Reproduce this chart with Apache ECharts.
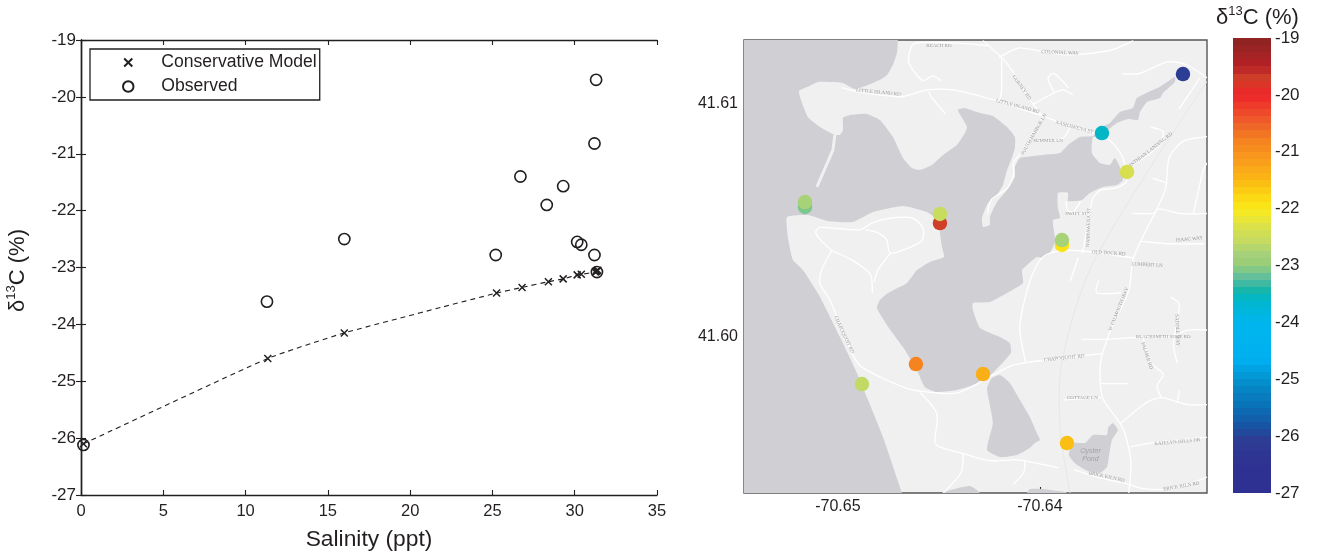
<!DOCTYPE html>
<html><head><meta charset="utf-8">
<style>html,body{margin:0;padding:0;background:#fff}#c{width:1319px;height:556px}</style>
<script src="https://cdn.jsdelivr.net/npm/echarts@6/dist/echarts.min.js"></script>
</head><body><div id="c"></div>
<script>
// ---- Salinity mixing plot ----
const salinityModel = [0.15,11.35,16.0,25.25,26.8,28.4,29.3,30.15,30.4,31.25,31.3,31.35,31.4];
const d13cModel     = [-26.1,-24.6,-24.15,-23.45,-23.35,-23.25,-23.2,-23.13,-23.12,-23.08,-23.07,-23.06,-23.05];
const salinityObs   = [0.15,11.3,16.0,25.2,26.7,28.3,29.3,30.15,30.4,31.2,31.2,31.3,31.35];
const d13cObs       = [-26.12,-23.6,-22.5,-22.78,-21.4,-21.9,-21.57,-22.55,-22.6,-22.78,-20.82,-19.7,-23.08];

// ---- Station map: lon, lat, d13C ----
const stationLon = [-70.63292,-70.63693,-70.63569,-70.63891,-70.63891,-70.65163,-70.65163,-70.64495,-70.64495,-70.64614,-70.64282,-70.64881,-70.63866];
const stationLat = [41.61128,41.60875,41.60708,41.60395,41.60416,41.60558,41.60579,41.60489,41.60528,41.59884,41.59841,41.59798,41.59545];
const stationVal = [-26.1,-23.58,-22.35,-21.9,-22.78,-23.08,-22.78,-19.7,-22.55,-20.82,-21.4,-22.6,-21.57];

// ---- Colour bar ----
const cbStops = [[-19,'#8a2421'],[-19.5,'#b52027'],[-19.7,'#cf3f28'],[-20,'#ee2529'],[-20.5,'#ee5f2b'],[-20.8,'#f58220'],[-21.2,'#f9a01b'],[-21.5,'#fbb713'],[-21.9,'#fbe314'],[-22.1,'#f3ea2a'],[-22.35,'#d7df4f'],[-22.55,'#c8dc5e'],[-22.8,'#a5d17a'],[-23,'#98cc76'],[-23.1,'#74c692'],[-23.25,'#58bc9f'],[-23.4,'#1cb6a4'],[-23.6,'#00b6ca'],[-24,'#00b6ee'],[-24.7,'#00aeef'],[-25,'#0492cf'],[-25.5,'#0a6fb5'],[-25.9,'#1b4d9f'],[-26,'#2d3f94'],[-26.5,'#2f3192'],[-27,'#2e3192']];
const cbBandCount = 64;
const cbTicks = [-27,-26,-25,-24,-23,-22,-21,-20,-19];

// ---- Base map geography (lon, lat) ----
const waterMain = [[-70.656,41.614],[-70.64703,41.614],[-70.64703,41.61274],[-70.64708,41.61218],[-70.64728,41.61167],[-70.64757,41.61124],[-70.64792,41.61103],[-70.64851,41.61081],[-70.64916,41.61064],[-70.64975,41.6109],[-70.6504,41.61094],[-70.65099,41.61094],[-70.65149,41.61073],[-70.65193,41.61055],[-70.65178,41.61004],[-70.65149,41.60944],[-70.65089,41.60901],[-70.65015,41.60867],[-70.6499,41.60867],[-70.64975,41.60888],[-70.64975,41.6094],[-70.64941,41.60952],[-70.64856,41.60957],[-70.64792,41.60931],[-70.64728,41.60858],[-70.64678,41.60768],[-70.64634,41.60725],[-70.64594,41.60716],[-70.64535,41.60738],[-70.6448,41.60781],[-70.64411,41.60824],[-70.64371,41.60875],[-70.64361,41.60901],[-70.64386,41.6094],[-70.64406,41.60974],[-70.64376,41.60982],[-70.64297,41.60961],[-70.64233,41.60948],[-70.64163,41.60901],[-70.64124,41.60858],[-70.64124,41.60811],[-70.64139,41.60768],[-70.64163,41.60716],[-70.64183,41.60652],[-70.64213,41.60609],[-70.64257,41.60575],[-70.64287,41.60511],[-70.64282,41.60472],[-70.64248,41.6048],[-70.64248,41.60515],[-70.64213,41.60579],[-70.64163,41.60631],[-70.64124,41.60686],[-70.64124,41.60729],[-70.64099,41.60768],[-70.63985,41.60781],[-70.63901,41.60789],[-70.63861,41.60824],[-70.63802,41.60858],[-70.63738,41.60862],[-70.63703,41.60897],[-70.63654,41.60918],[-70.63604,41.60965],[-70.6354,41.60982],[-70.6352,41.61025],[-70.63406,41.61073],[-70.63332,41.61115],[-70.63332,41.61094],[-70.63391,41.61047],[-70.63406,41.61025],[-70.6347,41.61008],[-70.63505,41.60965],[-70.63515,41.60931],[-70.63564,41.60935],[-70.63619,41.60918],[-70.63663,41.60888],[-70.63693,41.60854],[-70.63738,41.60858],[-70.63743,41.60789],[-70.63703,41.60746],[-70.63654,41.60738],[-70.63629,41.60768],[-70.63604,41.60729],[-70.63589,41.60674],[-70.63619,41.60652],[-70.63688,41.60644],[-70.63753,41.60618],[-70.63792,41.60588],[-70.63861,41.60583],[-70.63861,41.60618],[-70.63911,41.60618],[-70.63911,41.60553],[-70.63901,41.60511],[-70.63936,41.60502],[-70.63926,41.60429],[-70.63926,41.60403],[-70.63951,41.6036],[-70.63985,41.60339],[-70.64015,41.60343],[-70.64064,41.60309],[-70.64089,41.60287],[-70.64084,41.60232],[-70.64163,41.60189],[-70.64248,41.6015],[-70.64332,41.60146],[-70.64332,41.60116],[-70.64297,41.60039],[-70.64198,41.6],[-70.64149,41.59974],[-70.64144,41.59931],[-70.64233,41.59846],[-70.64332,41.59794],[-70.64411,41.59773],[-70.6451,41.59764],[-70.64569,41.59785],[-70.64609,41.59858],[-70.64678,41.59957],[-70.64757,41.60051],[-70.64807,41.60124],[-70.64792,41.60159],[-70.64752,41.60189],[-70.64658,41.60232],[-70.64609,41.60287],[-70.64545,41.60322],[-70.64475,41.60343],[-70.64485,41.60386],[-70.64495,41.60446],[-70.64495,41.60493],[-70.64559,41.60536],[-70.64678,41.60562],[-70.64827,41.60536],[-70.64926,41.60493],[-70.65054,41.60498],[-70.65149,41.60523],[-70.65252,41.60515],[-70.65248,41.60429],[-70.65223,41.6033],[-70.65173,41.60287],[-70.65089,41.60172],[-70.6499,41.6],[-70.64906,41.59846],[-70.64851,41.5973],[-70.64777,41.59571],[-70.64683,41.59331],[-70.6465,41.5925],[-70.656,41.5925]];
const waterSouthPond = [[-70.64198,41.59837],[-70.64149,41.59803],[-70.64099,41.5973],[-70.6405,41.59657],[-70.64015,41.59588],[-70.64,41.59558],[-70.64025,41.59545],[-70.6405,41.59524],[-70.64114,41.59494],[-70.64198,41.59485],[-70.64262,41.59515],[-70.64233,41.59631],[-70.64253,41.5973],[-70.64262,41.59781],[-70.64238,41.59824]];
const waterOysterPond = [[-70.63639,41.59631],[-70.63614,41.59601],[-70.63644,41.59558],[-70.63659,41.59485],[-70.63668,41.59442],[-70.63703,41.59417],[-70.63762,41.59425],[-70.63827,41.59459],[-70.63857,41.59494],[-70.63837,41.59545],[-70.63777,41.59545],[-70.63738,41.5958],[-70.63668,41.5958],[-70.63663,41.5961]];
const waterBottomA = [[-70.6448,41.59331],[-70.64347,41.59361],[-70.64297,41.59331],[-70.64297,41.5925],[-70.6448,41.5925]];
const waterBottomB = [[-70.64064,41.59331],[-70.6405,41.59348],[-70.63985,41.59348],[-70.63876,41.59335],[-70.63866,41.59331],[-70.63866,41.5925],[-70.64064,41.5925]];
const causeway = [[-70.65015,41.60867],[-70.65025,41.60802],[-70.65104,41.60644]];
const railTrail = [[-70.6317,41.611],[-70.6373,41.6033],[-70.6389,41.599],[-70.639,41.5961],[-70.6385,41.5933]];
const roads = [
 [[-70.6498,41.6107],[-70.6489,41.6105],[-70.6469,41.6103],[-70.6464,41.6104],[-70.6456,41.6106],[-70.6443,41.6106],[-70.642,41.6101],[-70.6403,41.6096],[-70.6399,41.6095],[-70.6387,41.6091],[-70.6375,41.6088],[-70.6365,41.6084],[-70.6359,41.6077],[-70.6357,41.6067],[-70.6362,41.6064],[-70.637,41.6063],[-70.6374,41.6059],[-70.6378,41.604],[-70.6379,41.6036]],
 [[-70.6354,41.6034],[-70.638,41.6037],[-70.6389,41.6037],[-70.6395,41.6036],[-70.64,41.6033],[-70.6405,41.6024],[-70.641,41.6004],[-70.6407,41.5989]],
 [[-70.6503,41.6037],[-70.6508,41.6029],[-70.6509,41.6023],[-70.6504,41.6016],[-70.6493,41.5993],[-70.6488,41.5987],[-70.6466,41.5978],[-70.6451,41.5976],[-70.6441,41.5976],[-70.6433,41.5979],[-70.6416,41.5987],[-70.6407,41.5989],[-70.6387,41.5991],[-70.6369,41.5993]],
 [[-70.6503,41.6037],[-70.6509,41.6042],[-70.6511,41.6045],[-70.6509,41.6047],[-70.6489,41.6046],[-70.6483,41.6049],[-70.6474,41.6051],[-70.6463,41.6051],[-70.6458,41.6047],[-70.6458,41.6042],[-70.6463,41.6039],[-70.6474,41.6036],[-70.6476,41.6042],[-70.6481,41.6045],[-70.6486,41.6046]],
 [[-70.6503,41.6037],[-70.6493,41.6033],[-70.6484,41.6027],[-70.6483,41.6019]],
 [[-70.6474,41.6036],[-70.648,41.6029],[-70.6482,41.6024]],
 [[-70.6428,41.6127],[-70.6418,41.6119],[-70.6412,41.6112],[-70.6406,41.6103],[-70.6399,41.6095]],
 [[-70.6426,41.6125],[-70.6462,41.6126],[-70.6465,41.6118],[-70.6458,41.611],[-70.6453,41.6112],[-70.6449,41.611]],
 [[-70.6455,41.6105],[-70.6453,41.6102],[-70.6447,41.6096]],
 [[-70.6419,41.6119],[-70.6419,41.6106],[-70.642,41.6101]],
 [[-70.642,41.612],[-70.6416,41.6122],[-70.641,41.6124],[-70.6387,41.6121],[-70.6365,41.6123],[-70.6354,41.6127]],
 [[-70.6403,41.61],[-70.6389,41.6106],[-70.6384,41.6104]],
 [[-70.6393,41.6105],[-70.6396,41.6111],[-70.6393,41.6113],[-70.6386,41.6107]],
 [[-70.6408,41.6081],[-70.6399,41.6094]],
 [[-70.6401,41.6084],[-70.6389,41.6085],[-70.6385,41.609]],
 [[-70.6406,41.6082],[-70.6413,41.6075],[-70.6413,41.607],[-70.6416,41.6064],[-70.6424,41.6059],[-70.6426,41.6053]],
 [[-70.6359,41.6113],[-70.6351,41.6113],[-70.6337,41.6118],[-70.6328,41.6117],[-70.6317,41.6111]],
 [[-70.6331,41.6098],[-70.6324,41.6107],[-70.6321,41.6111]],
 [[-70.6317,41.6086],[-70.6329,41.6084],[-70.6336,41.6077],[-70.6338,41.6063],[-70.6349,41.6043],[-70.6354,41.6033],[-70.6356,41.602],[-70.6365,41.6003],[-70.637,41.5989],[-70.6369,41.5974],[-70.6359,41.5961],[-70.6355,41.5947],[-70.6356,41.5933]],
 [[-70.6345,41.609],[-70.6339,41.6088],[-70.6341,41.6082],[-70.6357,41.6072]],
 [[-70.6344,41.6068],[-70.6337,41.6066]],
 [[-70.6354,41.6053],[-70.6344,41.6053],[-70.6341,41.6055],[-70.6331,41.6053],[-70.6317,41.6053]],
 [[-70.6324,41.6053],[-70.6319,41.6072],[-70.6317,41.6075]],
 [[-70.635,41.6041],[-70.6337,41.604],[-70.6319,41.604]],
 [[-70.6379,41.5999],[-70.6367,41.5999],[-70.6349,41.6],[-70.6336,41.6],[-70.6327,41.6003],[-70.6317,41.6003]],
 [[-70.6349,41.6],[-70.6345,41.5989],[-70.6339,41.5984],[-70.6342,41.5979],[-70.634,41.5974]],
 [[-70.636,41.5963],[-70.6347,41.5972],[-70.634,41.5974],[-70.6327,41.5971],[-70.6317,41.5971]],
 [[-70.6332,41.5972],[-70.6331,41.5977]],
 [[-70.637,41.598],[-70.6357,41.598]],
 [[-70.6388,41.5973],[-70.637,41.5974]],
 [[-70.6355,41.5953],[-70.6341,41.5955],[-70.6317,41.5957]],
 [[-70.6383,41.5943],[-70.6372,41.594],[-70.6357,41.5937],[-70.6349,41.5935],[-70.6334,41.5935],[-70.6317,41.594]],
 [[-70.6335,41.6017],[-70.6331,41.6014],[-70.6334,41.5997],[-70.6332,41.5989]],
 [[-70.6371,41.6024],[-70.6372,41.6019],[-70.636,41.6019]],
 [[-70.6459,41.5976],[-70.6451,41.5967],[-70.6452,41.5955],[-70.645,41.5953],[-70.6438,41.595],[-70.6425,41.5947],[-70.6408,41.5947],[-70.6408,41.5942],[-70.6413,41.5937]],
 [[-70.6438,41.595],[-70.6439,41.5942],[-70.6448,41.5933]],
 [[-70.6408,41.5947],[-70.6391,41.5944]],
 [[-70.6381,41.6034],[-70.6385,41.6024]],
 [[-70.6387,41.6058],[-70.6386,41.6054],[-70.6375,41.6053]],
 [[-70.638,41.6058],[-70.6383,41.6054]]
];
const streetLabels = [
 [-70.645,41.6125,'BEACH RD',0],[-70.639,41.6122,'COLONIAL WAY',-3],[-70.648,41.6105,'LITTLE ISLAND RD',-5],
 [-70.6411,41.6099,'LITTLE ISLAND RD',-15],[-70.6409,41.6107,'GURNEY RD',-55],[-70.6383,41.609,'NASHAWENA ST',-15],
 [-70.6403,41.6087,'SOUTH HARBOR LN',60],[-70.6396,41.6084,'SUMMER LN',0],[-70.6347,41.6079,'CORINTHIAN LANDING RD',38],
 [-70.6361,41.6012,'W FALMOUTH HWY',68],[-70.6366,41.6036,'OLD DOCK RD',-4],[-70.6382,41.6053,'SWIFT ST',0],
 [-70.6376,41.6047,'NASHAWENA ST',88],[-70.6347,41.6031,'LUMBERT LN',-3],[-70.6326,41.6042,'ISAAC WAY',5],
 [-70.6388,41.5991,'CHAPOQUOIT RD',6],[-70.6497,41.6001,'CHAPOQUOIT RD',-65],[-70.6339,41.6,'BLACKSMITH SHOP RD',0],
 [-70.6347,41.5992,'PALMER RD',-72],[-70.6379,41.5974,'COTTAGE LN',0],[-70.6367,41.594,'BRICK KILN RD',-12],
 [-70.633,41.5936,'BRICK KILN RD',10],[-70.6332,41.5955,'KATELYN HILLS DR',5],[-70.6332,41.6003,'SADDLE WAY',-88]
];
const pondLabels = [[-70.6375,41.5951,'Oyster'],[-70.6375,41.59475,'Pond']];

const xTicksMap = [-70.65,-70.64];
const yTicksMap = [41.60,41.61];

const lonMin=-70.65465, lonMax=-70.63173, latMin=41.59331, latMax=41.61274;
const ink='#231f20', waterCol='#d0cfd4', landCol='#eff0ef', roadCol='#ffffff';
const font='"Liberation Sans", Arial, sans-serif';

function colourAt(v){
  for(let i=0;i<cbStops.length-1;i++){
    const a=cbStops[i],b=cbStops[i+1];
    if(v<=a[0]&&v>=b[0]) return echarts.color.lerp((a[0]-v)/(a[0]-b[0]),[a[1],b[1]]);
  }
  return cbStops[cbStops.length-1][1];
}
const bandStep=8/cbBandCount;
const bands=[]; for(let i=0;i<cbBandCount;i++){const lo=-27+i*bandStep,hi=lo+bandStep;bands.push([lo,hi,colourAt((lo+hi)/2)]);}

const polys=[waterMain,waterSouthPond,waterOysterPond,waterBottomA,waterBottomB];
const crossPath='path://M0 0L10 10M10 0L0 10Z';
const legendCross='path://M-1.5 -1.5L-1.5 -1.5M11.5 11.5L11.5 11.5M0 0L10 10M10 0L0 10';

const titleRich={d:{fontSize:22,fontWeight:'normal',fontFamily:font,color:ink},s:{fontSize:13,fontWeight:'normal',fontFamily:font,color:ink,verticalAlign:'top',lineHeight:25},c:{fontSize:22,fontWeight:'normal',fontFamily:font,color:ink}};
const d13cTitle='{d|δ}{s|13}{c|C (%)}';

const axLine={lineStyle:{color:ink,width:1.4}};
const tickIn={inside:true,length:5,lineStyle:{color:ink,width:1.1}};
const option={
 animation:false,backgroundColor:'#fff',
 textStyle:{fontFamily:font,color:ink},
 title:{text:d13cTitle,left:1216,top:5,padding:0,textStyle:{fontWeight:'normal',rich:titleRich}},
 grid:[
  {left:81,top:40,width:576,height:455,show:false},
  {left:744,top:40,width:463,height:453,show:true,backgroundColor:landCol,borderColor:'#555',borderWidth:1.4,z:0},
  {left:1233,top:38,width:38,height:455,show:false}
 ],
 legend:{
  orient:'vertical',left:90,top:49,padding:[4.5,3,4.5,32],itemWidth:12,itemHeight:10.5,itemGap:6,
  backgroundColor:'#fff',borderColor:ink,borderWidth:1.3,z:20,
  textStyle:{fontSize:17.6,fontFamily:font,color:ink,padding:[0,0,0,22],lineHeight:17},
  data:[{name:'Conservative Model',icon:legendCross},{name:'Observed',icon:'circle'}]
 },
 xAxis:[
  {gridIndex:0,type:'value',min:0,max:35,interval:5,name:'Salinity (ppt)',nameLocation:'middle',nameGap:33,nameTextStyle:{fontSize:22.8,color:ink,fontFamily:font},
   axisLine:axLine,axisTick:tickIn,axisLabel:{fontSize:16.5,color:ink,margin:8},splitLine:{show:false}},
  {gridIndex:0,type:'value',position:'top',min:0,max:35,interval:5,axisLine:axLine,axisTick:tickIn,axisLabel:{show:false},splitLine:{show:false}},
  {gridIndex:1,type:'value',min:lonMin,max:lonMax,axisLine:{show:false},splitLine:{show:false},
   axisTick:{show:true,inside:true,length:6,customValues:xTicksMap,lineStyle:{color:ink,width:1.1}},
   axisLabel:{fontSize:16,color:ink,margin:6,customValues:xTicksMap,formatter:v=>v.toFixed(2)}},
  {gridIndex:2,type:'value',min:0,max:1,show:false}
 ],
 yAxis:[
  {gridIndex:0,type:'value',min:-27,max:-19,interval:1,name:d13cTitle,nameLocation:'middle',nameGap:51,nameRotate:90,nameTextStyle:{rich:titleRich,padding:[0,6,0,0]},
   axisLine:axLine,axisTick:tickIn,axisLabel:{fontSize:17,color:ink,margin:5,padding:[4,0,0,0]},splitLine:{show:false}},
  {gridIndex:0,type:'value',position:'right',min:-27,max:-19,interval:1,axisLine:axLine,axisTick:tickIn,axisLabel:{show:false},splitLine:{show:false}},
  {gridIndex:1,type:'value',min:latMin,max:latMax,axisLine:{show:false},splitLine:{show:false},
   axisTick:{show:true,inside:true,length:6,customValues:yTicksMap,lineStyle:{color:ink,width:1.1}},
   axisLabel:{fontSize:16,color:ink,margin:6,padding:[4,0,0,0],customValues:yTicksMap,formatter:v=>v.toFixed(2)}},
  {gridIndex:2,type:'value',position:'right',min:-27,max:-19,interval:1,axisLine:{show:false},axisTick:{show:false},splitLine:{show:false},
   axisLabel:{fontSize:17,color:ink,margin:4,padding:[2,0,0,0],customValues:cbTicks}}
 ],
 series:[
  {type:'line',xAxisIndex:0,yAxisIndex:0,data:salinityModel.map((x,i)=>[x,d13cModel[i]]),symbol:'none',smooth:0.15,silent:true,
   lineStyle:{color:ink,width:1.1,type:[5,4]},z:3},
  {name:'Conservative Model',type:'scatter',xAxisIndex:0,yAxisIndex:0,data:salinityModel.map((x,i)=>[x,d13cModel[i]]),symbol:crossPath,symbolSize:7,
   itemStyle:{color:'rgba(0,0,0,0)',borderColor:ink,borderWidth:1.5,opacity:1},z:4},
  {name:'Observed',type:'scatter',xAxisIndex:0,yAxisIndex:0,data:salinityObs.map((x,i)=>[x,d13cObs[i]]),symbol:'circle',symbolSize:11.2,
   itemStyle:{color:'rgba(0,0,0,0)',borderColor:ink,borderWidth:1.6,opacity:1},z:5},
  // base map: water
  {type:'custom',xAxisIndex:2,yAxisIndex:2,silent:true,z:1,clip:true,data:polys.map((p,i)=>[p[0][0],p[0][1],i]),
   renderItem:(params,api)=>({type:'polygon',shape:{points:polys[params.dataIndex].map(c=>api.coord(c)),smooth:0.15},style:{fill:waterCol,stroke:null}})},
  // pale trail
  {type:'custom',xAxisIndex:2,yAxisIndex:2,silent:true,z:2,clip:true,data:[[railTrail[0][0],railTrail[0][1]]],
   renderItem:(params,api)=>({type:'polyline',shape:{points:railTrail.map(c=>api.coord(c)),smooth:0.3},style:{fill:null,stroke:'#e6e7e6',lineWidth:1}})},
  // roads + causeway
  {type:'custom',xAxisIndex:2,yAxisIndex:2,silent:true,z:2,clip:true,data:roads.map(r=>[r[0][0],r[0][1]]),
   renderItem:(params,api)=>({type:'polyline',shape:{points:roads[params.dataIndex].map(c=>api.coord(c)),smooth:0.25},style:{fill:null,stroke:roadCol,lineWidth:1.3,lineJoin:'round',lineCap:'round'}})},
  {type:'custom',xAxisIndex:2,yAxisIndex:2,silent:true,z:2,clip:true,data:[[causeway[0][0],causeway[0][1]]],
   renderItem:(params,api)=>({type:'polyline',shape:{points:causeway.map(c=>api.coord(c))},style:{fill:null,stroke:landCol,lineWidth:3}})},
  // street names
  {type:'custom',xAxisIndex:2,yAxisIndex:2,silent:true,z:3,clip:true,data:streetLabels.map(l=>[l[0],l[1]]),
   renderItem:(params,api)=>{const l=streetLabels[params.dataIndex],p=api.coord([l[0],l[1]]);
    return {type:'text',x:p[0],y:p[1],rotation:l[3]*Math.PI/180,style:{text:l[2],fontSize:5,fontFamily:'"Liberation Serif",serif',fill:'#9a9b9b',align:'center',verticalAlign:'middle'}};}},
  {type:'custom',xAxisIndex:2,yAxisIndex:2,silent:true,z:3,clip:true,data:pondLabels.map(l=>[l[0],l[1]]),
   renderItem:(params,api)=>{const l=pondLabels[params.dataIndex],p=api.coord([l[0],l[1]]);
    return {type:'text',x:p[0],y:p[1],style:{text:l[2],fontSize:7,fontStyle:'italic',fontFamily:font,fill:'#a3a3a7',align:'center',verticalAlign:'middle'}};}},
  // stations
  {type:'scatter',xAxisIndex:2,yAxisIndex:2,symbol:'circle',symbolSize:14.5,z:6,
   data:stationLon.map((x,i)=>({value:[x,stationLat[i],stationVal[i]],itemStyle:{color:colourAt(stationVal[i]),opacity:1}}))},
  // colour bar
  {type:'custom',xAxisIndex:3,yAxisIndex:3,silent:true,z:2,data:bands.map(b=>[0,b[0],b[1]]),
   renderItem:(params,api)=>{const b=bands[params.dataIndex],a=api.coord([0,b[1]]),c=api.coord([1,b[0]]);
    const y0=Math.round(a[1]),y1=Math.round(c[1]);
    return {type:'rect',shape:{x:a[0],y:y0,width:c[0]-a[0],height:y1-y0},style:{fill:b[2]}};}}
 ]
};
echarts.init(document.getElementById('c'),null,{renderer:'canvas'}).setOption(option);
</script></body></html>
